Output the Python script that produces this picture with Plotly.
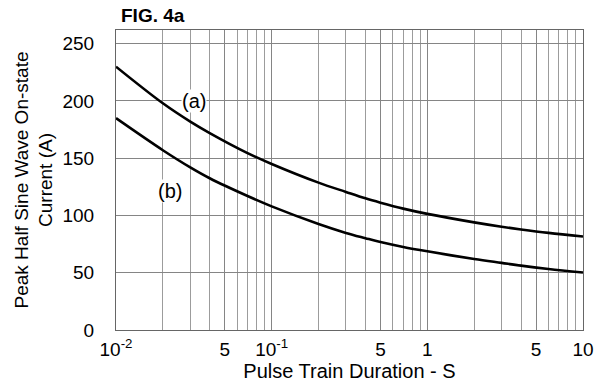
import plotly.graph_objects as go

# Pulse train duration (s) and peak half-sine on-state current (A)
duration = [0.01, 0.02, 0.03, 0.04, 0.07, 0.1, 0.2, 0.3, 0.4, 0.5, 0.7, 1, 2, 3, 4, 6, 10]
current_a = [230, 198, 182, 172, 154.5, 145, 128.7, 120.6, 115, 111.2, 106, 101.4, 94, 90.2, 87.8, 84.8, 81.7]
current_b = [185, 157, 142, 132.5, 117, 108, 92.6, 84.8, 80.2, 76.8, 72.5, 68.7, 62, 58.6, 56.2, 53.3, 50.2]

x_tickvals = [0.01, 0.05, 0.1, 0.5, 1, 5, 10]
x_ticktext = ["10<sup>-2</sup>", "5", "10<sup>-1</sup>", "5", "1", "5", "10"]
x_minor = [m * d for d in (0.01, 0.1, 1) for m in (2, 3, 4, 6, 7, 8, 9)]
y_tickvals = [0, 50, 100, 150, 200, 250]

font = "Liberation Sans, Arial, sans-serif"

fig = go.Figure()
for ys in (current_a, current_b):
    fig.add_trace(go.Scatter(x=duration, y=ys, mode="lines",
                             line=dict(color="black", width=2.6, shape="spline", smoothing=1.0),
                             showlegend=False, hoverinfo="skip"))

fig.add_annotation(x=-1.502, y=200, xref="x", yref="y", text="(a)", showarrow=False,
                   bgcolor="white", borderpad=0, font=dict(size=20, color="black", family=font))
fig.add_annotation(x=-1.653, y=121, xref="x", yref="y", text="(b)", showarrow=False,
                   bgcolor="white", borderpad=0, font=dict(size=20, color="black", family=font))

fig.update_layout(
    width=611, height=386,
    margin=dict(l=116, r=28, t=30, b=54),
    paper_bgcolor="white", plot_bgcolor="white",
    font=dict(family=font, size=19, color="black"),
    title=dict(text="<b>FIG. 4a</b>", x=121 / 611, xanchor="left", y=1 - 15 / 386, yanchor="middle",
               font=dict(size=19, family=font, color="black")),
    xaxis=dict(type="log", range=[-2, 1], tickvals=x_tickvals, ticktext=x_ticktext,
               showgrid=True, gridcolor="#858585", gridwidth=1,
               minor=dict(tickvals=x_minor, showgrid=True, gridcolor="#9c9c9c", gridwidth=1),
               showline=True, linecolor="#666", linewidth=1, mirror=True,
               ticks="", zeroline=False, ticklabelstandoff=2,
               title=dict(text="Pulse Train Duration - S", standoff=0,
                          font=dict(size=20, family=font, color="black")),
               tickfont=dict(size=19, family=font, color="black")),
    yaxis=dict(range=[0, 262], tickvals=y_tickvals,
               showgrid=True, gridcolor="#858585", gridwidth=1,
               showline=True, linecolor="#666", linewidth=1, mirror=True,
               ticks="", zeroline=False, ticklabelstandoff=17,
               title=dict(text="Peak Half Sine Wave On-state<br>Current (A)", standoff=4,
                          font=dict(size=19, family=font, color="black")),
               tickfont=dict(size=19, family=font, color="black")),
)

fig.write_html("out.html")
